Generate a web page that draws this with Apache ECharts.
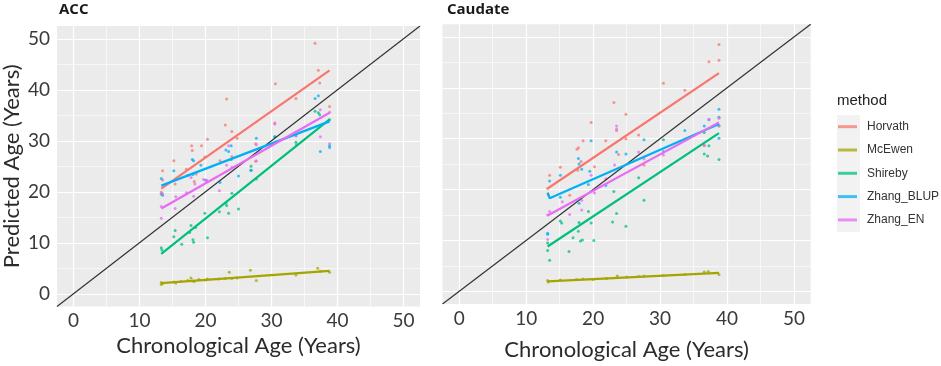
<!DOCTYPE html>
<html>
<head>
<meta charset="utf-8">
<script src="https://cdn.jsdelivr.net/npm/echarts@6/dist/echarts.min.js"></script>
<style>
  html, body { margin: 0; padding: 0; background: #ffffff; }
  #chart { width: 941px; height: 366px; }
</style>
</head>
<body>
<div id="chart"></div>
<script>
// ---------- data ----------
const panelTitles = ['ACC', 'Caudate'];
const methods = ['Horvath', 'McEwen', 'Shireby', 'Zhang_BLUP', 'Zhang_EN'];
const methodColors = ['#F8766D', '#A3A500', '#00BF7D', '#00B0F6', '#E76BF3'];
const majorTicks = [0, 10, 20, 30, 40, 50];
const minorTicks = [5, 15, 25, 35, 45];
const axisRange = [-2.5, 52.5];
const identityLine = [[-2.5, -2.5], [52.5, 52.5]];

// ACC scatter points [chronological age, predicted age]
const accHorvath = [[13.3,19.9],[13.3,19.5],[13.5,22.3],[13.5,24.1],[15.2,26.1],[15.4,21.5],[17.1,24.4],[17.9,29],[18,28.1],[18.3,22],[18.6,23.5],[19.4,29],[19.9,26.8],[20.3,30.3],[20.2,22.2],[22.2,26.1],[23,33.1],[23.2,38.2],[24,31.8],[24,26.9],[24.8,30.5],[27.6,29.4],[27.6,26],[30.6,41.2],[30.5,33.5],[33.7,38.3],[36.6,49.1],[37.1,43.8],[37.3,41.3],[38.8,36.7]];
const accMcEwen = [[13.3,2.2],[13.3,1.8],[13.5,2.0],[15.2,2.3],[15.5,2.1],[16.3,2.4],[17.3,2.6],[17.8,3.1],[18,2.5],[18.3,2.4],[19,2.8],[20,2.7],[20.3,2.9],[22,2.9],[23,3.0],[23.6,4.2],[24,3.0],[24.8,3.1],[26.8,4.6],[27.7,2.6],[33.7,3.7],[37,5.0],[37.4,4.4],[38.8,4.2]];
const accShireby = [[13.3,9.0],[13.4,8.6],[15.2,11.2],[15.4,12.4],[16.4,9.7],[17.8,13.4],[17.6,12.0],[18.1,10.6],[18.2,10.1],[18.5,13.0],[19.9,15.8],[20.3,11.0],[22.1,16.1],[23.2,17.3],[23.1,17.8],[23.5,15.8],[24,19.7],[25,16.6],[26.9,25.0],[26.9,24.2],[27.7,22.5],[30.5,30.8],[33.7,29.7],[33.8,29.2],[36.6,35.8],[37.1,35.5],[37.3,35.1],[38.8,34.1]];
const accBLUP = [[13.3,22.6],[13.4,19.6],[13.5,19.3],[15.2,24.1],[17.3,23.2],[18,26.3],[18.2,26.1],[18.1,23.4],[19.3,25.2],[20,22.3],[22.2,21.8],[23.1,28.2],[23.5,27.9],[23.9,29],[23.9,26.3],[25,23.1],[26.9,24.2],[27.7,30.5],[30.5,30.8],[33.7,31.0],[36.6,38.3],[37.1,38.8],[37.4,27.9],[38.8,29],[38.8,28.7]];
const accEN = [[13.3,17.1],[13.3,14.8],[13.5,19.6],[15.4,16.7],[15.5,19.0],[17.1,19.8],[17.8,22.8],[18.2,19.1],[18.4,21.5],[19.7,22.4],[20.1,22.2],[22.1,20.2],[23.2,25.2],[23.5,29],[24,24.8],[27.7,26.1],[27.7,29.2],[30.5,33.3],[33.7,31],[37.4,30.8],[37.4,36.1],[38.8,29.4],[38.8,35.6]];
// ACC fitted lines
const accFitHorvath = [[13.3,20.6],[38.8,43.8]];
const accFitMcEwen = [[13.3,2.1],[38.8,4.5]];
const accFitShireby = [[13.3,7.8],[38.8,34.2]];
const accFitBLUP = [[13.3,21.2],[38.8,33.8]];
const accFitEN = [[13.3,16.7],[38.8,35.5]];

// Caudate scatter points
const caudHorvath = [[13.2,20.2],[13.3,19.0],[13.5,22.8],[15.1,24.4],[16.5,18.9],[17.6,27.9],[17.8,28.2],[17.7,23.8],[18.5,29.6],[18.2,25.5],[19.7,33.2],[20.2,24.5],[21.9,29.6],[23.1,37.1],[23.5,31.6],[23.8,26.9],[24.9,34.8],[24.9,30.0],[26.8,30.7],[27.6,24.8],[30.5,40.9],[33.7,39.5],[36.6,28.7],[37.3,45.1],[38.8,45.4],[38.8,48.5]];
const caudMcEwen = [[13.2,2.1],[13.3,1.8],[15.1,2.2],[17.5,2.3],[18.5,2.4],[20,2.3],[22,2.5],[23.6,3.0],[25,2.8],[26.8,2.9],[27.6,3.0],[30.5,3.1],[33.7,3.3],[36.6,3.8],[37.2,3.9],[38.8,3.3]];
const caudShireby = [[13.2,8.0],[13.5,6.1],[13.2,9.5],[15.1,13.8],[15.3,13.4],[16.4,7.8],[17,10.5],[17.8,11.8],[18.1,9.9],[18.4,10.1],[17.9,13.5],[19.3,15.7],[19.7,13.4],[20.1,10],[22.9,13.6],[23.1,19.6],[23.5,15.3],[24.9,12.8],[26.8,22.3],[27.6,17.9],[30.5,29.8],[36.6,27],[37.1,26.6],[37.3,28.6],[36.6,31.2],[38.8,34.2],[38.8,25.9],[38.8,32.5]];
const caudBLUP = [[13.2,11.4],[13.2,11.2],[13.5,21.7],[15.1,22.8],[15.1,18.5],[17.8,26.1],[17.9,25],[17.9,17.3],[18.3,24.0],[19.3,21],[19.5,23.6],[19.7,29.6],[21.9,20.8],[23.5,27.4],[24.9,27.0],[27.6,29.8],[30.5,27.5],[33.7,31.6],[36.6,32.5],[37.3,33.7],[38.8,35.8],[38.8,30.1]];
const caudEN = [[13.2,15],[13.5,15.7],[13.2,10.2],[15.4,17.6],[16.5,15.1],[18.3,16],[18.3,17.9],[19.7,22.8],[20.2,19.3],[21.9,22.1],[23.2,24.8],[23.5,31.9],[23.5,32.5],[26.8,27.4],[27.6,26.0],[30.5,26.8],[36.6,28.6],[37.3,33.8],[38.8,32.6],[38.8,34.0]];
// Caudate fitted lines
const caudFitHorvath = [[13.2,20.2],[38.8,42.9]];
const caudFitMcEwen = [[13.2,1.95],[38.8,3.6]];
const caudFitShireby = [[13.2,8.8],[38.8,31.1]];
const caudFitBLUP = [[13.2,19.4],[13.5,18.3],[38.8,32.9]];
const caudFitEN = [[13.2,14.9],[38.8,33.2]];

const panelPoints = [
  [accHorvath, accMcEwen, accShireby, accBLUP, accEN],
  [caudHorvath, caudMcEwen, caudShireby, caudBLUP, caudEN]
];
const panelFits = [
  [accFitHorvath, accFitMcEwen, accFitShireby, accFitBLUP, accFitEN],
  [caudFitHorvath, caudFitMcEwen, caudFitShireby, caudFitBLUP, caudFitEN]
];

// ---------- chart ----------
const FONT = 'Lato, "Open Sans", sans-serif';
const chart = echarts.init(document.getElementById('chart'), null, { renderer: 'canvas' });

const grids = [
  { left: 57, top: 26, width: 363, height: 280.5 },
  { left: 442.5, top: 24.2, width: 368.2, height: 282.7 }
];
const xNameGaps = [28, 35];

const xAxes = [], yAxes = [], series = [];
grids.forEach((g, p) => {
  xAxes.push({
    gridIndex: p, type: 'value', min: axisRange[0], max: axisRange[1],
    name: 'Chronological Age (Years)', nameLocation: 'middle', nameGap: xNameGaps[p],
    nameTextStyle: { fontFamily: FONT, fontSize: 22, color: '#2b2b2b' },
    axisLine: { show: false },
    axisTick: { show: true, length: 4, lineStyle: { color: '#444', width: 1 }, customValues: majorTicks },
    axisLabel: { show: true, customValues: majorTicks, fontFamily: FONT, fontSize: 19, color: '#3a3a3a', margin: 5 },
    splitLine: { show: false }
  });
  yAxes.push({
    gridIndex: p, type: 'value', min: axisRange[0], max: axisRange[1],
    name: p === 0 ? 'Predicted Age (Years)' : '', nameLocation: 'middle', nameGap: 34,
    nameTextStyle: { fontFamily: FONT, fontSize: 22, color: '#2b2b2b' },
    axisLine: { show: false },
    axisTick: { show: true, length: 4, lineStyle: { color: '#444', width: 1 }, customValues: majorTicks },
    axisLabel: { show: p === 0, customValues: majorTicks, fontFamily: FONT, fontSize: 19, color: '#3a3a3a', margin: 7 },
    splitLine: { show: false }
  });
  // grid lines (major + minor) drawn from the axis scales
  series.push({
    type: 'line', xAxisIndex: p, yAxisIndex: p, data: [], z: 1, silent: true,
    markLine: {
      silent: true, symbol: 'none', animation: false, z: 1,
      label: { show: false },
      emphasis: { disabled: true },
      data: [].concat(
        minorTicks.map(v => ({ xAxis: v, lineStyle: { color: '#ffffff', width: 0.6, type: 'solid' } })),
        minorTicks.map(v => ({ yAxis: v, lineStyle: { color: '#ffffff', width: 0.6, type: 'solid' } })),
        majorTicks.map(v => ({ xAxis: v, lineStyle: { color: '#ffffff', width: 1.2, type: 'solid' } })),
        majorTicks.map(v => ({ yAxis: v, lineStyle: { color: '#ffffff', width: 1.2, type: 'solid' } }))
      )
    }
  });
  // scatter points
  methods.forEach((m, i) => {
    series.push({
      name: m, type: 'scatter', xAxisIndex: p, yAxisIndex: p,
      data: panelPoints[p][i], symbolSize: 3, z: 3,
      itemStyle: { color: methodColors[i], opacity: 0.75 },
      silent: true, animation: false
    });
  });
  // identity line
  series.push({
    type: 'line', xAxisIndex: p, yAxisIndex: p, data: identityLine,
    symbol: 'none', z: 4, silent: true, animation: false, clip: true,
    lineStyle: { color: '#333333', width: 1.2 }
  });
  // fitted lines
  methods.forEach((m, i) => {
    series.push({
      name: m, type: 'line', xAxisIndex: p, yAxisIndex: p,
      data: panelFits[p][i], symbol: 'none', z: 5, silent: true, animation: false,
      itemStyle: { color: methodColors[i] },
      lineStyle: { color: methodColors[i], width: 2.2 }
    });
  });
});

chart.setOption({
  animation: false,
  backgroundColor: '#ffffff',
  title: [
    { text: panelTitles[0], left: 59, top: 2, padding: 0, textStyle: { fontFamily: '"Open Sans", sans-serif', fontWeight: 'bold', fontSize: 15, color: '#1a1a1a' } },
    { text: panelTitles[1], left: 447, top: 2, padding: 0, textStyle: { fontFamily: '"Open Sans", sans-serif', fontWeight: 'bold', fontSize: 15, color: '#1a1a1a' } }
  ],
  grid: grids.map(g => Object.assign({ show: true, backgroundColor: '#EBEBEB', borderWidth: 0, containLabel: false }, g)),
  xAxis: xAxes,
  yAxis: yAxes,
  legend: {
    orient: 'vertical', left: 838, top: 119.7, padding: 0,
    itemWidth: 19, itemHeight: 3, itemGap: 9.3, icon: 'rect',
    selectedMode: false,
    data: methods,
    textStyle: { fontFamily: '"Liberation Sans", Arial, sans-serif', fontSize: 12, color: '#333', lineHeight: 14, padding: [0, 0, 0, 5] }
  },
  graphic: [
    { type: 'rect', left: 837, top: 115, shape: { width: 23, height: 117 }, style: { fill: '#F2F2F2' }, z: -1, silent: true },
    { type: 'text', left: 837, top: 93, style: { text: 'method', fontFamily: '"Liberation Sans", Arial, sans-serif', fontSize: 15, fill: '#222' }, silent: true }
  ],
  series: series
});
</script>
</body>
</html>
